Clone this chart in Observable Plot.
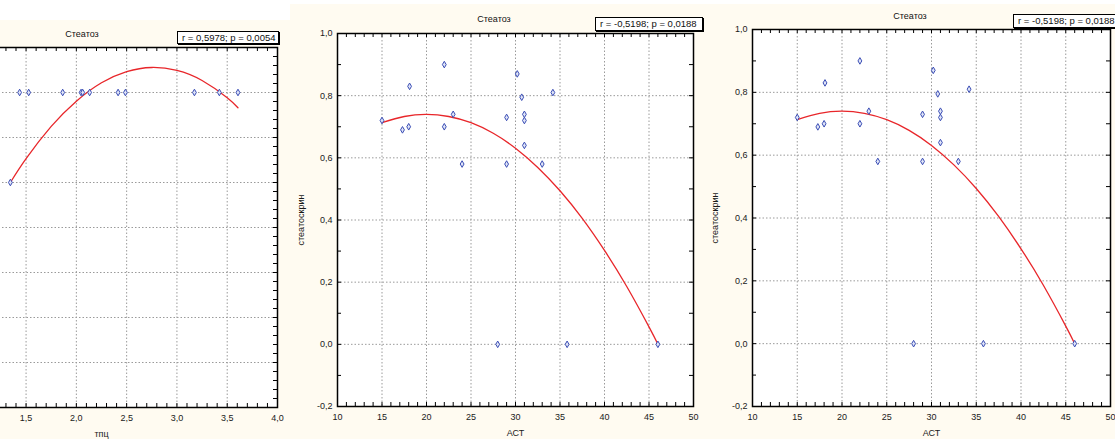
<!DOCTYPE html>
<html><head><meta charset="utf-8">
<script src="https://cdn.jsdelivr.net/npm/d3@7"></script>
<script src="https://cdn.jsdelivr.net/npm/@observablehq/plot@0.6"></script>
<style>
html,body{margin:0;padding:0;background:#fff;}
#page{position:relative;width:1115px;height:439px;overflow:hidden;background:#fffbf1;font-family:"Liberation Sans",Arial,sans-serif;}
.white{position:absolute;background:#fff;}
.panel{position:absolute;top:0;}
.title{position:absolute;font-size:9px;color:#111;transform:translate(-50%,-50%);white-space:nowrap;}
.stat{position:absolute;box-sizing:border-box;font-size:9.5px;color:#111;border:1px solid #000;box-shadow:1px 1px 0 #000;background:#fff;padding:0 0 0 4px;white-space:nowrap;text-align:left;overflow:hidden;}
</style></head>
<body>
<div id="page">
  <div class="white" style="left:0;top:0;width:290px;height:20px"></div>
  <div class="white" style="left:290px;top:0;width:825px;height:4px"></div>
  <div id="p1" class="panel" style="left:-125px"></div>
  <div id="p2" class="panel" style="left:290px"></div>
  <div id="p3" class="panel" style="left:705px"></div>
  <div class="title" style="left:82px;top:34px">Стеатоз</div>
  <div class="stat" style="left:177px;top:31px;width:102px;height:13px;line-height:11px">r = 0,5978; p = 0,0054</div>
  <div class="title" style="left:494px;top:19px">Стеатоз</div>
  <div class="stat" style="left:595px;top:17px;width:108px;height:14px;line-height:12px">r = -0,5198; p = 0,0188</div>
  <div class="title" style="left:910px;top:16px">Стеатоз</div>
  <div class="stat" style="left:1013px;top:14px;width:112px;height:14px;line-height:12px">r = -0,5198; p = 0,0188</div>
</div>
<script>
// ---- Left panel (cropped on the left): тпц vs стеатоз ----
const tpcX = [1.344, 1.436, 1.526, 1.864, 2.047, 2.063, 2.132, 2.415, 2.488, 3.174, 3.422, 3.607];
const tpcY = [0, 1, 1, 1, 1, 1, 1, 1, 1, 1, 1, 1];
const tpcFitX = [1.344, 1.5, 1.75, 2.0, 2.25, 2.5, 2.75, 3.0, 3.25, 3.5, 3.607];
const tpcFitY = [0, 0.265, 0.623, 0.904, 1.108, 1.232, 1.278, 1.245, 1.133, 0.942, 0.83];
const tpcTicksX = [1.5, 2.0, 2.5, 3.0, 3.5, 4.0];
const tpcGridX = [1.0, 1.5, 2.0, 2.5, 3.0, 3.5];
const tpcGridY = [-2.0, -1.5, -1.0, -0.5, 0.0, 0.5, 1.0];

// ---- Middle & right panels: АСТ vs стеатоскрин ----
const astX = [15.0, 17.3, 18.0, 18.1, 22.0, 22.0, 23.0, 24.0, 28.0, 29.0, 29.0, 30.2, 30.7, 31.0, 31.0, 31.0, 33.0, 34.2, 35.8, 46.0];
const steatoY = [0.72, 0.69, 0.70, 0.83, 0.90, 0.70, 0.74, 0.58, 0.00, 0.73, 0.58, 0.87, 0.795, 0.74, 0.72, 0.64, 0.58, 0.81, 0.00, 0.00];
const astFitX = [15, 17.5, 20, 22.5, 25, 27.5, 30, 32.5, 35, 37.5, 40, 42.5, 45, 46];
const astFitY = [0.713, 0.733, 0.740, 0.733, 0.713, 0.679, 0.631, 0.569, 0.494, 0.405, 0.302, 0.186, 0.056, 0.0];
const astTicksX = [10, 15, 20, 25, 30, 35, 40, 45, 50];
const astTicksY = [-0.2, 0.0, 0.2, 0.4, 0.6, 0.8, 1.0];
const astGridX = [15, 20, 25, 30, 35, 40, 45];
const astGridY = [0.0, 0.2, 0.4, 0.6, 0.8];

const comma1 = d => d.toFixed(1).replace(".", ",");
const intFmt = d => String(d);

function panel(o) {
  const W = o.width - o.ml - o.mr, H = o.height - o.mt - o.mb;
  const pts = o.px.map((x, i) => ({x, y: o.py[i]}));
  const fit = o.fx.map((x, i) => ({x, y: o.fy[i]}));
  const yScale = o.ticksY
    ? {domain: o.dy, ticks: o.ticksY, tickSize: 0, tickPadding: 5, tickFormat: comma1, label: o.labelY, labelAnchor: "center", labelOffset: o.loY, labelArrow: "none"}
    : {domain: o.dy, axis: null};
  return Plot.plot({
    width: o.width, height: o.height,
    marginLeft: o.ml, marginRight: o.mr, marginTop: o.mt, marginBottom: o.mb,
    style: {background: "transparent", fontFamily: "Liberation Sans, Arial, sans-serif", fontSize: "9px", color: "#1a1a1a", overflow: "visible"},
    x: {domain: o.dx, ticks: o.ticksX, tickSize: 0, tickPadding: 7, tickFormat: o.fmtX, label: o.labelX, labelAnchor: "center", labelOffset: o.loX, labelArrow: "none"},
    y: yScale,
    marks: [
      Plot.frame({fill: "white", stroke: "none"}),
      Plot.ruleX(o.gridX, {x: d => d, stroke: "#9a9a9a", strokeDasharray: "1.5,2"}),
      Plot.ruleY(o.gridY, {y: d => d, stroke: "#9a9a9a", strokeDasharray: "1.5,2"}),
      Plot.tickX(o.minorX, {x: d => d, insetTop: H - 4, stroke: "#000"}),
      Plot.tickX(o.minorX, {x: d => d, insetBottom: H - 4, stroke: "#000"}),
      Plot.tickY(o.minorY, {y: d => d, insetRight: W - 4, stroke: "#000"}),
      Plot.tickY(o.minorY, {y: d => d, insetLeft: W - 4, stroke: "#000"}),
      Plot.line(fit, {x: "x", y: "y", stroke: "#e8262a", strokeWidth: 1.3, curve: "natural"}),
      Plot.dot(pts, {x: "x", y: "y", symbol: "diamond", r: 2, fill: "#dfe4f7", stroke: "#3a4db5", strokeWidth: 1}),
      Plot.frame({stroke: "#000", strokeWidth: 1.5})
    ]
  });
}

const minorTpcX = d3.range(5, 41).map(v => v / 10);
const minorTpcY = d3.range(-25, 16).map(v => v / 10);
const minorAstX = d3.range(10, 51);
const minorAstY = d3.range(-2, 11).map(v => v / 10);

document.getElementById("p1").append(panel({
  width: 415, height: 439, ml: 50, mr: 13, mt: 47, mb: 32,
  dx: [0.5, 4.0], dy: [-2.5, 1.5], ticksX: tpcTicksX, ticksY: null,
  gridX: tpcGridX, gridY: tpcGridY,
  minorX: minorTpcX, minorY: minorTpcY, fmtX: comma1,
  labelX: "тпц", labelY: null, loX: 29, loY: 40,
  px: tpcX, py: tpcY, fx: tpcFitX, fy: tpcFitY
}));
document.getElementById("p2").append(panel({
  width: 420, height: 439, ml: 47, mr: 17, mt: 33, mb: 33,
  dx: [10, 50], dy: [-0.2, 1.0], ticksX: astTicksX, ticksY: astTicksY,
  gridX: astGridX, gridY: astGridY,
  minorX: minorAstX, minorY: minorAstY, fmtX: intFmt,
  labelX: "АСТ", labelY: "стеатоскрин", loX: 29, loY: 40,
  px: astX, py: steatoY, fx: astFitX, fy: astFitY
}));
document.getElementById("p3").append(panel({
  width: 410, height: 439, ml: 47, mr: 5, mt: 29, mb: 33,
  dx: [10, 50], dy: [-0.2, 1.0], ticksX: astTicksX, ticksY: astTicksY,
  gridX: astGridX, gridY: astGridY,
  minorX: minorAstX, minorY: minorAstY, fmtX: intFmt,
  labelX: "АСТ", labelY: "стеатоскрин", loX: 29, loY: 41,
  px: astX, py: steatoY, fx: astFitX, fy: astFitY
}));
</script>
</body></html>
